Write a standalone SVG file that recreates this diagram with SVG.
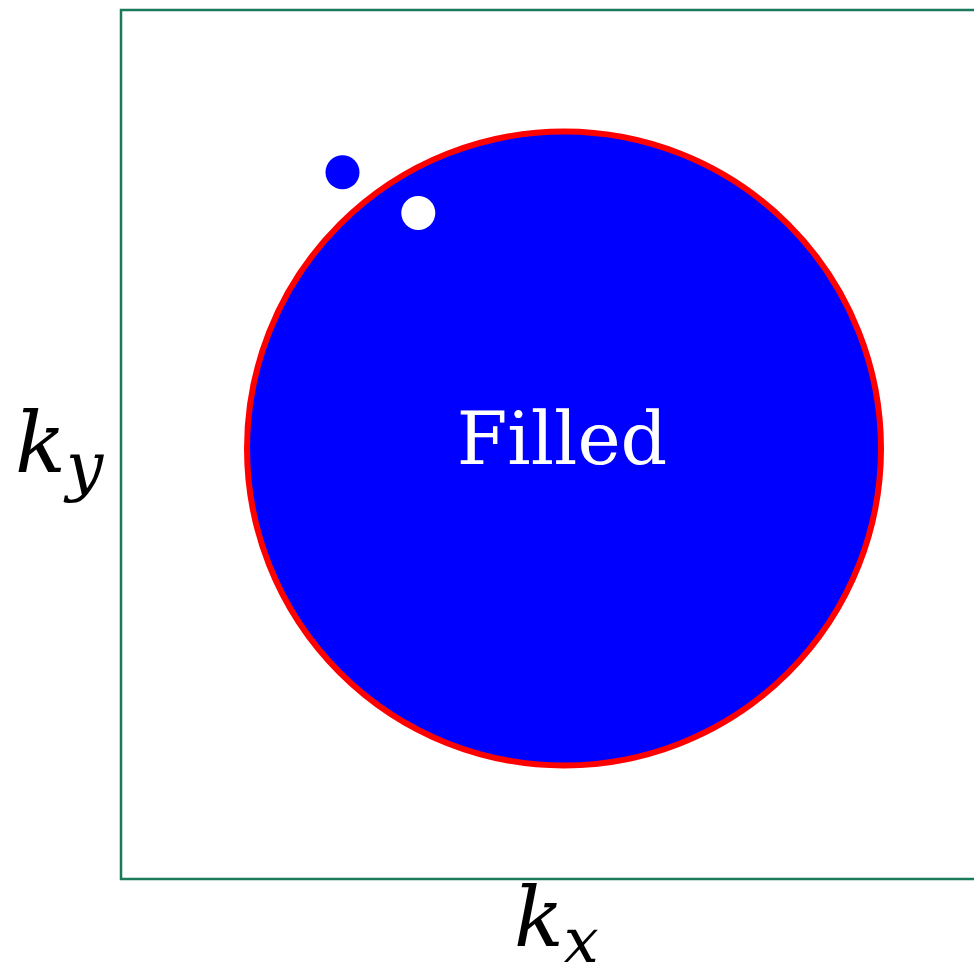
<svg xmlns="http://www.w3.org/2000/svg" width="974" height="976" viewBox="0 0 974 976">
<style>
.lab{font-family:"DejaVu Serif","Liberation Serif",serif;font-style:italic;fill:#000}
</style>
<rect x="0" y="0" width="974" height="976" fill="#fff"/>
<g id="frame"><rect x="121" y="10" width="870" height="869" fill="none" stroke="#1b7a5c" stroke-width="2.5"/></g>
<g id="filled">
<circle cx="564" cy="448.5" r="317" fill="#0000ff" stroke="#ff0000" stroke-width="6"/>
<text x="562" y="464" font-family="DejaVu Serif, Liberation Serif, serif" font-size="73" fill="#fff" text-anchor="middle">Filled</text>
</g>
<g id="dot-blue"><circle cx="342.5" cy="172.3" r="17" fill="#0000ff"/></g>
<g id="dot-white"><circle cx="418.3" cy="213" r="17" fill="#fff"/></g>
<g id="ky"><text class="lab" x="15" y="472" font-size="84">k<tspan font-size="66" dy="16">y</tspan></text></g>
<g id="kx"><text class="lab" x="514" y="946" font-size="82">k<tspan font-size="62" dy="16">x</tspan></text></g>
<g id="connectors"/>
</svg>
